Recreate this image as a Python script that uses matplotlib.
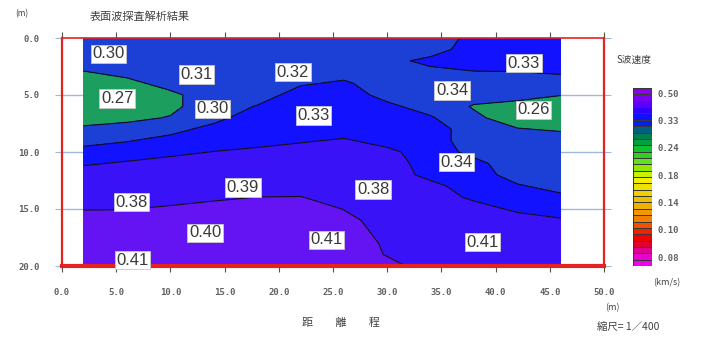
import numpy as np
import matplotlib.pyplot as plt
from matplotlib.colors import ListedColormap

# grid: distance (m) of columns, depth (m) of rows
distance = [2, 6, 10, 14, 18, 22, 26, 30, 34, 38, 42, 46]
depth = list(range(0, 21))

# S-wave velocity (km/s), one list per column, from 0 m down to 20 m
vs_columns = [
    [0.305, 0.305, 0.303, 0.283, 0.265, 0.265, 0.265, 0.271, 0.291, 0.315, 0.335,
     0.356, 0.376, 0.378, 0.378, 0.393, 0.413, 0.415, 0.415, 0.415, 0.415],
    [0.305, 0.305, 0.305, 0.295, 0.275, 0.265, 0.265, 0.277, 0.297, 0.323, 0.343,
     0.364, 0.378, 0.378, 0.378, 0.394, 0.415, 0.415, 0.415, 0.415, 0.415],
    [0.305, 0.305, 0.305, 0.305, 0.297, 0.277, 0.277, 0.287, 0.315, 0.335, 0.352,
     0.372, 0.378, 0.378, 0.381, 0.401, 0.415, 0.415, 0.415, 0.415, 0.415],
    [0.305, 0.305, 0.305, 0.305, 0.305, 0.305, 0.305, 0.315, 0.335, 0.343, 0.361,
     0.378, 0.378, 0.378, 0.389, 0.409, 0.415, 0.415, 0.415, 0.415, 0.415],
    [0.305, 0.305, 0.305, 0.305, 0.305, 0.307, 0.327, 0.343, 0.343, 0.348, 0.368,
     0.378, 0.378, 0.378, 0.396, 0.415, 0.415, 0.415, 0.415, 0.415, 0.415],
    [0.305, 0.305, 0.305, 0.305, 0.321, 0.341, 0.343, 0.343, 0.343, 0.356, 0.376,
     0.378, 0.378, 0.377, 0.397, 0.415, 0.415, 0.415, 0.415, 0.415, 0.415],
    [0.305, 0.305, 0.305, 0.311, 0.331, 0.343, 0.343, 0.343, 0.344, 0.364, 0.378,
     0.378, 0.378, 0.378, 0.378, 0.394, 0.405, 0.410, 0.415, 0.415, 0.415],
    [0.305, 0.308, 0.316, 0.316, 0.305, 0.313, 0.333, 0.343, 0.343, 0.348, 0.368,
     0.378, 0.378, 0.378, 0.378, 0.378, 0.380, 0.385, 0.390, 0.393, 0.405],
    [0.305, 0.311, 0.333, 0.317, 0.305, 0.305, 0.309, 0.329, 0.343, 0.343, 0.343,
     0.343, 0.350, 0.370, 0.378, 0.378, 0.378, 0.378, 0.378, 0.380, 0.382],
    [0.335, 0.340, 0.343, 0.323, 0.305, 0.300, 0.282, 0.292, 0.305, 0.305, 0.315,
     0.335, 0.343, 0.343, 0.354, 0.374, 0.378, 0.378, 0.378, 0.378, 0.378],
    [0.343, 0.343, 0.343, 0.324, 0.305, 0.295, 0.275, 0.267, 0.287, 0.305, 0.305,
     0.305, 0.309, 0.329, 0.343, 0.354, 0.374, 0.378, 0.378, 0.378, 0.378],
    [0.343, 0.343, 0.343, 0.329, 0.309, 0.286, 0.265, 0.265, 0.281, 0.301, 0.305,
     0.305, 0.305, 0.313, 0.333, 0.344, 0.364, 0.378, 0.378, 0.378, 0.378],
]

levels = [0.20, 0.285, 0.325, 0.36, 0.395, 0.45]
band_colors = ['#1b9e5e', '#1c3fd6', '#1212ff', '#3a12f8', '#6414f2']

# value labels written on the section
label_x = [4.3, 12.4, 21.3, 42.6, 5.1, 13.9, 23.2, 36.0, 43.5, 36.4, 6.4, 16.7, 28.7, 13.2, 24.4, 38.8, 6.5]
label_d = [1.4, 3.2, 3.0, 2.2, 5.3, 6.2, 6.8, 4.6, 6.3, 10.9, 14.4, 13.1, 13.3, 17.1, 17.7, 17.9, 19.5]
label_txt = ['0.30', '0.31', '0.32', '0.33', '0.27', '0.30', '0.33', '0.34', '0.26',
             '0.34', '0.38', '0.39', '0.38', '0.40', '0.41', '0.41', '0.41']

x_ticks = [0, 5, 10, 15, 20, 25, 30, 35, 40, 45, 50]
y_ticks = [0, 5, 10, 15, 20]

# colour scale, top to bottom, and its labels
scale_colors = ['#8a00e8', '#7a00f0', '#5a00f8', '#3000ff', '#1010ff', '#0020f0',
                '#006080', '#008050', '#00a040', '#10c030', '#30d020', '#60e020',
                '#90e800', '#c8f000', '#f0f000', '#f0e000', '#f0d000', '#e8c000',
                '#f0b000', '#f09800', '#f08000', '#f05000', '#f02000', '#f00000',
                '#e00030', '#e00090', '#e800d0', '#f000f0']
scale_labels = ['0.50', '0.33', '0.24', '0.18', '0.14', '0.10', '0.08']

W, H = 704, 338
JP = ['Noto Sans CJK JP', 'DejaVu Sans']
RED = '#e42222'
GRID = '#9db8d8'

fig = plt.figure(figsize=(W / 100, H / 100), dpi=100)
ax = fig.add_axes([62 / W, 72 / H, 542 / W, 228 / H])
ax.set_xlim(0, 50)
ax.set_ylim(20, 0)

for d in y_ticks[1:-1]:
    ax.axhline(d, color=GRID, lw=1, zorder=0)

X, D = np.meshgrid(distance, depth)
Z = np.array(vs_columns).T
ax.contourf(X, D, Z, levels=levels, colors=band_colors, zorder=1)
ax.contour(X, D, Z, levels=levels[1:-1], colors='#101018', linewidths=0.8, zorder=2)

for x, d, t in zip(label_x, label_d, label_txt):
    ax.text(x, d, t, ha='center', va='center', fontsize=12, color='#383838',
            family='Liberation Sans', zorder=5, clip_on=False,
            bbox=dict(boxstyle='square,pad=0.1', fc='white', ec='#c8c8c8', lw=0.6))

for s in ['left', 'right']:
    ax.spines[s].set_color(RED)
    ax.spines[s].set_linewidth(1.6)
ax.spines['top'].set_color(RED)
ax.spines['top'].set_linewidth(1.2)
ax.spines['bottom'].set_color(RED)
ax.spines['bottom'].set_linewidth(3)

ax.set_xticks(x_ticks)
ax.set_xticklabels([f'{v:.1f}' for v in x_ticks])
ax.set_yticks(y_ticks)
ax.set_yticklabels([f'{v:.1f}' for v in y_ticks])
ax.tick_params(axis='x', direction='out', top=True, bottom=True, length=4,
               color='#505050', pad=12, labelsize=6.5, labelcolor='#606060')
ax.tick_params(axis='y', direction='out', left=True, right=True, length=5,
               color=GRID, pad=11, labelsize=6.5, labelcolor='#606060')
for lab in ax.get_xticklabels() + ax.get_yticklabels():
    lab.set_family('DejaVu Sans Mono')
    lab.set_fontweight('bold')

# colour scale
cax = fig.add_axes([633 / W, 72 / H, 19 / W, 178 / H])
n = len(scale_colors)
cax.pcolormesh([0, 1], np.linspace(0, 1, n + 1), np.arange(n)[:, None],
               cmap=ListedColormap(scale_colors[::-1]), edgecolors='#383838',
               linewidth=0.4)
cax.set_xlim(0, 1)
cax.set_ylim(0, 1)
cax.set_xticks([])
cax.yaxis.tick_right()
cax.set_yticks(np.linspace(0.97, 0.05, len(scale_labels)))
cax.set_yticklabels(scale_labels)
cax.tick_params(axis='y', length=0, pad=4, labelsize=6.5, labelcolor='#606060')
for lab in cax.get_yticklabels():
    lab.set_family('DejaVu Sans Mono')
    lab.set_fontweight('bold')
for s in cax.spines.values():
    s.set_visible(False)


def ftext(px, py, s, **kw):
    fig.text(px / W, 1 - py / H, s, va='center', family=JP, color='#404040', **kw)


ftext(22, 14, '(m)', ha='center', fontsize=6)
ftext(140, 17, '表面波探査解析結果', ha='center', fontsize=8)
ftext(617, 60, 'S波速度', ha='left', fontsize=7)
ftext(667, 283, '(km/s)', ha='center', fontsize=6.5)
ftext(612, 308, '(m)', ha='center', fontsize=6.5)
ftext(341, 323, '距　　離　　程', ha='center', fontsize=8)
ftext(597, 327, '縮尺= 1／400', ha='left', fontsize=7.5)

fig.savefig('out.png', dpi=100)
